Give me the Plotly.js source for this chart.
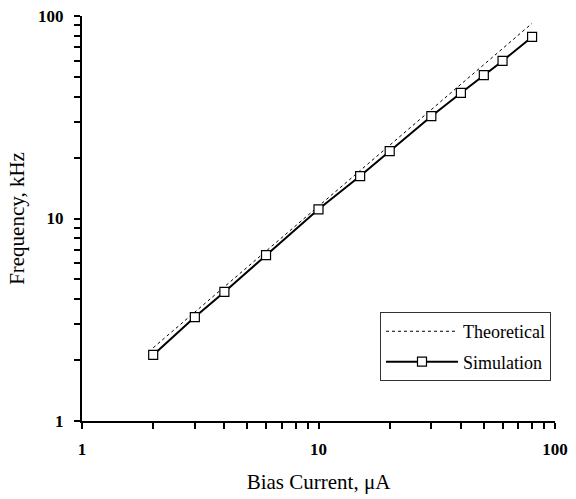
<!DOCTYPE html>
<html><head><meta charset="utf-8">
<script src="https://cdn.plot.ly/plotly-3.0.1.min.js"></script>
<style>body{margin:0;background:#fff}#plot{width:576px;height:499px}</style>
</head><body><div id="plot"></div>
<script>
const simX = [2, 3, 4, 6, 10, 15, 20, 30, 40, 50, 60, 80];
const simY = [2.12, 3.26, 4.34, 6.6, 11.1, 16.2, 21.5, 32, 41.7, 51, 60, 78.8];
const theoX = [2, 80];
const theoY = [2.3, 92];
const tickVals = [1,2,3,4,5,6,7,8,9,10,20,30,40,50,60,70,80,90,100];
const tickText = ['1','','','','','','','','','10','','','','','','','','','100'];
const xTitle = 'Bias Current, μA';
const yTitle = 'Frequency, kHz';

const font = 'Liberation Serif, Times New Roman, serif';
const traces = [
  {x: theoX, y: theoY, mode: 'lines', name: 'Theoretical', legendgroup: 'a',
   line: {color: '#000', width: 1, dash: '3px,3px'}},
  {x: simX, y: simY, mode: 'lines+markers', name: 'Simulation', legendgroup: 'b',
   line: {color: '#000', width: 2},
   marker: {symbol: 'square', size: 9, color: '#fff', line: {color: '#000', width: 1.2}}}
];
const axisBase = {
  type: 'log', range: [0, 2], tickmode: 'array', tickvals: tickVals,
  ticktext: tickText.map(t => t ? '<b>' + t + '</b>' : ''),
  showgrid: false, zeroline: false,
  showline: true, linecolor: '#000', linewidth: 2, mirror: false,
  ticks: 'outside', ticklen: 6, tickwidth: 2, tickcolor: '#000',
  tickfont: {family: font, size: 17, color: '#000'}
};
const layout = {
  width: 576, height: 499,
  margin: {l: 82, r: 21, t: 16, b: 78},
  paper_bgcolor: '#fff', plot_bgcolor: '#fff',
  showlegend: true,
  legend: {x: 0.63, y: 0.269, xanchor: 'left', yanchor: 'top',
    bordercolor: '#333', borderwidth: 1, bgcolor: '#fff',
    itemwidth: 72, tracegroupgap: 4,
    font: {family: font, size: 18, color: '#000'}, traceorder: 'grouped'},
  xaxis: Object.assign({}, axisBase, {ticklabelstandoff: 6,
    title: {text: xTitle, font: {family: font, size: 21, color: '#000'}, standoff: 16}}),
  yaxis: Object.assign({}, axisBase, {ticklabelstandoff: 7,
    title: {text: yTitle, font: {family: font, size: 21, color: '#000'}, standoff: 8}})
};
Plotly.newPlot('plot', traces, layout, {displayModeBar: false, staticPlot: true});
</script></body></html>
